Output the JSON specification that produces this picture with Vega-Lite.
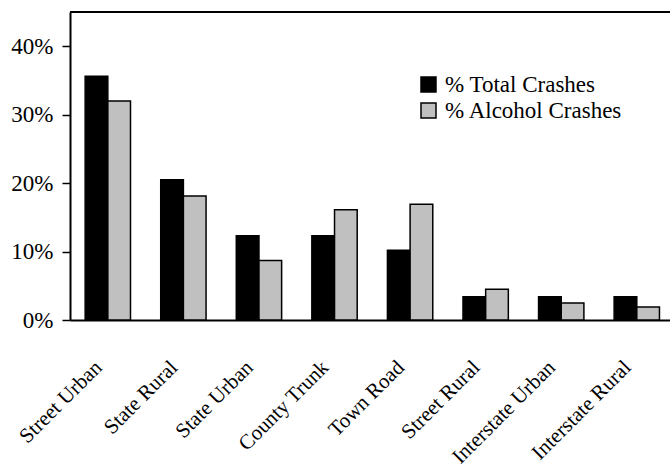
{
  "$schema": "https://vega.github.io/schema/vega-lite/v6.json",
  "width": 600,
  "height": 308,
  "autosize": "none",
  "padding": {"left": 70, "top": 12, "right": 0, "bottom": 153},
  "background": "white",
  "config": {
    "view": {"stroke": null},
    "font": "'Liberation Serif', 'DejaVu Serif', serif",
    "axis": {"labelFont": "'Liberation Serif', 'DejaVu Serif', serif", "labelColor": "black", "domainColor": "black", "tickColor": "black", "grid": false}
  },
  "data": {
    "values": [
      {"road": "Street Urban", "series": "% Total Crashes", "pct": 0.356},
      {"road": "Street Urban", "series": "% Alcohol Crashes", "pct": 0.320},
      {"road": "State Rural", "series": "% Total Crashes", "pct": 0.205},
      {"road": "State Rural", "series": "% Alcohol Crashes", "pct": 0.181},
      {"road": "State Urban", "series": "% Total Crashes", "pct": 0.123},
      {"road": "State Urban", "series": "% Alcohol Crashes", "pct": 0.087},
      {"road": "County Trunk", "series": "% Total Crashes", "pct": 0.123},
      {"road": "County Trunk", "series": "% Alcohol Crashes", "pct": 0.161},
      {"road": "Town Road", "series": "% Total Crashes", "pct": 0.102},
      {"road": "Town Road", "series": "% Alcohol Crashes", "pct": 0.169},
      {"road": "Street Rural", "series": "% Total Crashes", "pct": 0.034},
      {"road": "Street Rural", "series": "% Alcohol Crashes", "pct": 0.045},
      {"road": "Interstate Urban", "series": "% Total Crashes", "pct": 0.034},
      {"road": "Interstate Urban", "series": "% Alcohol Crashes", "pct": 0.025},
      {"road": "Interstate Rural", "series": "% Total Crashes", "pct": 0.034},
      {"road": "Interstate Rural", "series": "% Alcohol Crashes", "pct": 0.019}
    ]
  },
  "layer": [
    {
      "mark": {"type": "bar", "stroke": "black", "strokeWidth": 1.5},
      "encoding": {
        "x": {
          "field": "road",
          "type": "nominal",
          "sort": null,
          "scale": {"paddingInner": 0.4, "paddingOuter": 0.17, "align": 0.59},
          "axis": {
            "title": null,
            "labelAngle": -45,
            "labelAlign": "right",
            "labelBaseline": "middle",
            "labelFontSize": 21,
            "ticks": false,
            "labelPadding": 44,
            "labelOffset": -9,
            "domainWidth": 2
          }
        },
        "xOffset": {
          "field": "series",
          "type": "nominal",
          "sort": ["% Total Crashes", "% Alcohol Crashes"],
          "scale": {"paddingInner": 0, "paddingOuter": 0}
        },
        "y": {
          "field": "pct",
          "type": "quantitative",
          "scale": {"domain": [0, 0.45], "nice": false, "zero": true},
          "axis": {
            "title": null,
            "values": [0, 0.1, 0.2, 0.3, 0.4],
            "format": ".0%",
            "labelFontSize": 23,
            "tickSize": 8,
            "tickWidth": 1.5,
            "labelPadding": 9,
            "domainWidth": 2
          }
        },
        "color": {
          "field": "series",
          "type": "nominal",
          "scale": {"domain": ["% Total Crashes", "% Alcohol Crashes"], "range": ["#000000", "#c0c0c0"]},
          "legend": {
            "title": null,
            "orient": "none",
            "legendX": 347,
            "legendY": 61,
            "padding": 0,
            "symbolType": "square",
            "symbolSize": 225,
            "symbolStrokeColor": "black",
            "symbolStrokeWidth": 1.5,
            "labelFontSize": 23,
            "labelFont": "'Liberation Serif', 'DejaVu Serif', serif",
            "labelColor": "black",
            "labelOffset": 5,
            "rowPadding": 2,
            "labelLimit": 300
          }
        }
      }
    },
    {
      "mark": {"type": "rule", "color": "black", "strokeWidth": 2},
      "encoding": {"y": {"datum": 0.45}}
    }
  ]
}
